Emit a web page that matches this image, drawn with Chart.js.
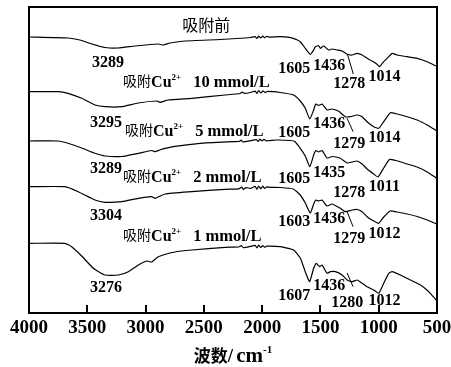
<!DOCTYPE html>
<html>
<head>
<meta charset="utf-8">
<script src="https://cdn.jsdelivr.net/npm/chart.js@4/dist/chart.umd.min.js"></script>
<style>
  html, body { margin: 0; padding: 0; background: #fff; }
  #grafico { display: block; }
</style>
</head>
<body>
<canvas id="grafico" width="451" height="367"></canvas>
<script>
// Espectros FTIR: [numero de onda, transmitancia relativa (unidades arbitrarias)]
const antes = [[4000,276],[3666,275],[3563,273],[3460,269],[3348,265.5],[3236,265],[3090,267],[2892,269],[2850,268],[2790,270],[2661,272],[2360,273.5],[2145,275],[2100,275.5],[2060,276.4],[2045,274.6],[2030,276.8],[2012,275],[1995,277],[1980,275.2],[1962,276.6],[1930,275.8],[1845,276.3],[1733,274.7],[1673,271.3],[1630,264.7],[1587,258.7],[1558,263],[1544,266.3],[1515,267.3],[1501,264.7],[1472,267],[1429,263],[1400,264],[1357,263],[1314,262],[1271,258.7],[1228,258],[1185,259.7],[1142,258],[1100,254.7],[1057,252],[1014,248.7],[994,246.3],[957,251.3],[914,256.3],[885,259.7],[842,258],[756,256.3],[670,254.7],[584,251.3],[513,247.3],[500,247]];
const cu10 = [[4000,221.3],[3749,221.3],[3666,219.7],[3548,214.7],[3434,208],[3348,206.3],[3204,206.3],[3064,210],[2904,212],[2875,210.7],[2807,213],[2603,214.7],[2317,218],[2190,219.5],[2170,220.8],[2150,219.6],[2100,220.5],[2060,221.8],[2045,219.6],[2030,222.4],[2010,220],[1992,222.2],[1975,220.4],[1955,221.6],[1845,220.5],[1730,218],[1673,212],[1630,204.7],[1591,194],[1558,203],[1540,209],[1515,207.5],[1486,209],[1443,203],[1406,204],[1346,202],[1286,196.3],[1243,196.3],[1185,198],[1142,196.3],[1100,191.3],[1043,186.3],[1000,184.7],[957,191.3],[900,200.3],[842,199],[756,196.3],[670,193],[584,188],[513,183],[500,182]];
const cu5 = [[4000,172],[3749,172],[3666,169.7],[3548,165],[3434,159.7],[3348,157],[3204,156.5],[3062,159.7],[2947,162.5],[2918,161.3],[2880,163],[2764,166.3],[2532,169.7],[2248,171.3],[2200,171.5],[2180,172.8],[2165,171],[2100,172.2],[2050,173.4],[2035,171.4],[2020,173.8],[2000,172],[1985,173.6],[1965,172.2],[1880,173],[1759,172.5],[1720,171.5],[1673,164.7],[1630,157],[1591,146.3],[1558,158],[1540,162.5],[1515,161],[1486,162.5],[1443,155],[1400,156.5],[1329,154.7],[1271,150],[1228,151],[1185,152],[1142,149],[1100,144],[1043,139],[1007,136],[957,145],[908,153.5],[852,152.5],[756,149],[670,146],[584,141],[513,135.5],[500,134.5]];
const cu2 = [[4000,126.3],[3692,126.3],[3577,121.3],[3434,113],[3348,110.7],[3204,111.3],[3062,114.7],[2947,116.3],[2918,114.7],[2832,119],[2603,121.3],[2317,123.7],[2200,124.2],[2175,125.8],[2160,123.6],[2140,125.4],[2100,124.6],[2060,126.6],[2045,123.8],[2030,127],[2012,124.2],[1995,126.8],[1978,124.6],[1960,126.2],[1930,125.6],[1845,125.5],[1733,124],[1673,118],[1630,110],[1587,100],[1558,109],[1540,113],[1515,112],[1486,113],[1443,107],[1400,109],[1329,104.7],[1286,101.3],[1228,103],[1185,103.5],[1142,101.3],[1100,96.3],[1043,92],[1000,89.7],[957,96],[900,102],[842,101],[756,99],[670,96.5],[584,93],[513,89.5],[500,89]];
const cu1 = [[4000,69.7],[3692,69.7],[3634,66.3],[3548,57],[3448,44.7],[3348,38],[3234,38],[3148,41.3],[3062,48],[2990,52],[2947,51],[2890,56.3],[2747,61],[2603,63],[2317,65.7],[2200,66],[2180,67.3],[2160,65.4],[2100,66.6],[2060,67.6],[2045,65.2],[2030,67.8],[2012,65.6],[1995,67.4],[1978,65.8],[1960,66.8],[1845,66.3],[1730,63],[1673,55],[1630,41.3],[1593,31.3],[1558,44.7],[1535,49.7],[1507,46.3],[1486,48],[1443,39.7],[1415,41.3],[1372,41.3],[1314,38],[1271,33],[1228,31.3],[1185,33],[1142,29.7],[1100,26.3],[1043,23],[1000,19.7],[957,29.7],[914,39.7],[885,41.3],[814,38],[728,33],[642,28],[570,21.3],[513,13.7],[500,12]];

// Nombres de las muestras y concentraciones
const muestras = ['吸附前', '10 mmol/L', '5 mmol/L', '2 mmol/L', '1 mmol/L'];
// Picos marcados en cada espectro (cm-1)
const picos = [
    ['3289', '1605', '1436', '1278', '1014'],
    ['3295', '1605', '1436', '1279', '1014'],
    ['3289', '1605', '1435', '1278', '1011'],
    ['3304', '1603', '1436', '1279', '1012'],
    ['3276', '1607', '1436', '1280', '1012']
];
const ticksX = [4000, 3500, 3000, 2500, 2000, 1500, 1000, 500];

// Donde va cada etiqueta (x en cm-1, y = linea base del texto)
const posPicos = [
    [[3322,246],[1724,240],[1424,243],[1252,225],[951,232]],
    [[3339,186],[1724,176],[1424,185],[1252,165],[951,171]],
    [[3339,140],[1724,130],[1424,136],[1252,116],[951,122]],
    [[3339,93],[1724,87],[1424,90],[1252,70],[951,75]],
    [[3339,21],[1724,13],[1424,23],[1269,6],[951,8]]
];
const posTitulos = [[2480,282,'center'],[3193,226,'left'],[3176,177,'left'],[3193,131,'left'],[3193,72,'left']];
// Pequenas lineas guia hacia el pico ~1278
const guias = [[1269,259,1218,239],[1271,194.7,1220,181.3],null,[1271,101.3,1220,86.3],[1271,40,1220,26.3]];

const serif = '"Liberation Serif", "Times New Roman", serif';
const cjk = '"Noto Sans CJK SC", sans-serif';

function textoMixto(ctx, partes, x, y, align) {
    let ancho = 0;
    partes.forEach(p => { ctx.font = p.font; ancho += ctx.measureText(p.t).width + (p.gap || 0); });
    let cx = align === 'center' ? x - ancho / 2 : x;
    partes.forEach(p => {
        ctx.font = p.font;
        ctx.fillText(p.t, cx, y + (p.dy || 0));
        cx += ctx.measureText(p.t).width + (p.gap || 0);
    });
}

const anotaciones = {
    id: 'anotaciones',
    afterDraw(chart) {
        const { ctx, chartArea: a, scales: { x, y } } = chart;
        ctx.save();
        ctx.strokeStyle = '#000';
        ctx.fillStyle = '#000';
        ctx.lineWidth = 2;
        ctx.strokeRect(a.left, a.top, a.right - a.left, a.bottom - a.top);

        // marcas hacia adentro en el eje X
        ticksX.forEach(v => {
            if (v === x.min || v === x.max) return;
            const px = Math.round(x.getPixelForValue(v));
            ctx.beginPath();
            ctx.moveTo(px, a.bottom);
            ctx.lineTo(px, a.bottom - 8);
            ctx.stroke();
        });

        ctx.textBaseline = 'alphabetic';
        // etiquetas de picos
        picos.forEach((fila, i) => {
            fila.forEach((txt, j) => {
                const [wn, val] = posPicos[i][j];
                ctx.font = 'bold 16px ' + serif;
                ctx.textAlign = 'center';
                ctx.fillText(txt, x.getPixelForValue(wn), y.getPixelForValue(val));
            });
        });
        ctx.textAlign = 'left';

        // titulos de cada espectro
        muestras.forEach((m, i) => {
            const [wn, val, al] = posTitulos[i];
            const px = x.getPixelForValue(wn), py = y.getPixelForValue(val);
            if (i === 0) {
                textoMixto(ctx, [{ t: m, font: '16px ' + cjk }], px, py, al);
            } else {
                textoMixto(ctx, [
                    { t: '吸附', font: '14px ' + cjk, dy: -1 },
                    { t: 'Cu', font: 'bold 16px ' + serif },
                    { t: '2+', font: 'bold 9px ' + serif, dy: -7, gap: 12 },
                    { t: m, font: 'bold 16.5px ' + serif }
                ], px, py, al);
            }
        });

        // lineas guia
        ctx.lineWidth = 1;
        guias.forEach(g => {
            if (!g) return;
            ctx.beginPath();
            ctx.moveTo(x.getPixelForValue(g[0]), y.getPixelForValue(g[1]));
            ctx.lineTo(x.getPixelForValue(g[2]), y.getPixelForValue(g[3]));
            ctx.stroke();
        });

        // titulo del eje X
        textoMixto(ctx, [
            { t: '波数', font: 'bold 17px ' + cjk },
            { t: '/', font: 'bold 19px ' + serif, gap: 3 },
            { t: 'cm', font: 'bold 21px ' + serif },
            { t: '-1', font: 'bold 11px ' + serif, dy: -9 }
        ], (a.left + a.right) / 2, a.bottom + 49, 'center');
        ctx.restore();
    }
};

const grafico = document.getElementById('grafico').getContext('2d');
const series = [antes, cu10, cu5, cu2, cu1];

new Chart(grafico, {
    type: 'line',
    data: {
        datasets: series.map((s, i) => ({
            label: muestras[i],
            data: s.map(p => ({ x: p[0], y: p[1] })),
            borderColor: '#000',
            borderWidth: 1.2,
            pointRadius: 0,
            tension: 0.15,
            fill: false
        }))
    },
    options: {
        responsive: false,
        animation: false,
        layout: { padding: { left: 29, right: 14, top: 7, bottom: 0 } },
        plugins: { legend: { display: false }, tooltip: { enabled: false } },
        scales: {
            x: {
                type: 'linear',
                reverse: true,
                min: 500,
                max: 4000,
                afterBuildTicks: s => { s.ticks = ticksX.map(v => ({ value: v })); },
                afterFit: s => { s.height = 54; },
                grid: { display: false },
                border: { display: false },
                ticks: {
                    autoSkip: false,
                    maxRotation: 0,
                    padding: -4,
                    color: '#000',
                    font: { family: serif, size: 19, weight: 'bold' },
                    callback: v => String(v)
                }
            },
            y: { display: false, min: 0, max: 306 }
        }
    },
    plugins: [anotaciones]
});
</script>
</body>
</html>
